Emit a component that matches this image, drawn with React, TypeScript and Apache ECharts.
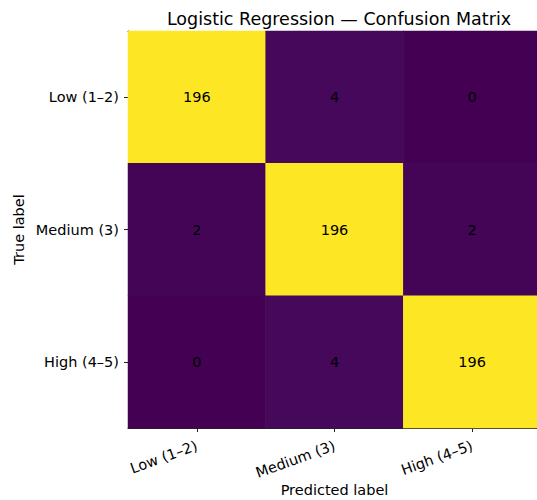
import React, { useEffect, useRef } from "react";
import * as echarts from "echarts";

const predictedLabels = ["Low (1–2)", "Medium (3)", "High (4–5)"];
const trueLabels = ["Low (1–2)", "Medium (3)", "High (4–5)"];
const rowLow = [196, 4, 0];
const rowMedium = [2, 196, 2];
const rowHigh = [0, 4, 196];
const matrix = [rowLow, rowMedium, rowHigh];
const viridis = ["#440154", "#482878", "#3e4989", "#31688e", "#26828e", "#1f9e89", "#35b779", "#6ece58", "#b5de2b", "#fde725"];

const FONT = "DejaVu Sans";
const FS = 14.5;

export default function App() {
  const ref = useRef<HTMLDivElement>(null);
  useEffect(() => {
    if (!ref.current) return;
    const chart = echarts.init(ref.current, null, { renderer: "svg" });
    const data: [number, number, number][] = [];
    matrix.forEach((row, i) => row.forEach((v, j) => data.push([j, i, v])));
    const maxV = Math.max(...matrix.flat());
    chart.setOption({
      animation: false,
      textStyle: { fontFamily: FONT },
      title: {
        text: "Logistic Regression — Confusion Matrix",
        left: 334,
        textAlign: "center",
        top: 5,
        textStyle: { fontFamily: FONT, fontSize: 17.5, fontWeight: "normal", color: "#000" },
      },
      grid: { left: 128, top: 31, width: 413, height: 397, containLabel: false, outerBoundsMode: "none" },
      visualMap: { show: false, min: 0, max: maxV, inRange: { color: viridis }, seriesIndex: 0 },
      xAxis: [
        {
          type: "category",
          data: predictedLabels,
          position: "bottom",
          axisLine: { show: true, lineStyle: { color: "#222", width: 1 } },
          axisTick: { show: true, alignWithLabel: true, length: 4, lineStyle: { color: "#222" } },
          axisLabel: { rotate: 20, fontSize: FS, color: "#000", fontFamily: FONT, margin: 17 },
          splitLine: { show: false },
          name: "Predicted label",
          nameLocation: "middle",
          nameGap: 54,
          nameMoveOverlap: false,
          nameTextStyle: { fontSize: FS, color: "#000", fontFamily: FONT, lineHeight: 15 },
        },
        {
          type: "category",
          data: predictedLabels,
          position: "top",
          axisLine: { show: true, onZero: false, lineStyle: { color: "#222", width: 1 } },
          axisTick: { show: false },
          axisLabel: { show: false },
        },
      ],
      yAxis: [
        {
          type: "category",
          data: trueLabels,
          inverse: true,
          axisLine: { show: true, lineStyle: { color: "#222", width: 1 } },
          axisTick: { show: true, alignWithLabel: true, length: 4, lineStyle: { color: "#222" } },
          axisLabel: { fontSize: FS, color: "#000", fontFamily: FONT, margin: 9 },
          name: "True label",
          nameLocation: "middle",
          nameGap: 102,
          nameMoveOverlap: false,
          nameTextStyle: { fontSize: FS, color: "#000", fontFamily: FONT },
        },
      ],
      series: [
        {
          type: "heatmap",
          data,
          label: { show: true, color: "#000", fontSize: FS, fontFamily: FONT },
          itemStyle: { borderWidth: 0 },
          emphasis: { disabled: true },
        },
      ],
    });
    return () => chart.dispose();
  }, []);
  return (
    <div
      ref={ref}
      style={{ position: "absolute", left: 0, top: 0, width: 537, height: 500 }}
    />
  );
}
